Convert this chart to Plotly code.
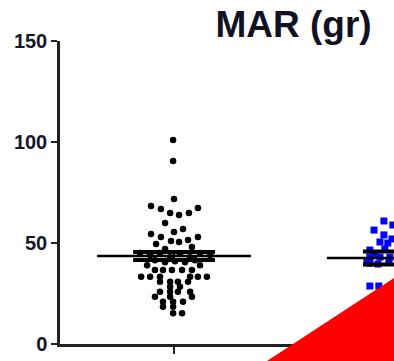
import plotly.graph_objects as go

# Group positions on the x axis (category index)
groups = [0, 1]
group_colors = ["#000000", "#0000ff"]
group_symbols = ["circle", "square"]

# Summary statistics per group: mean and SEM (grams)
group_mean = [43.6, 42.6]
group_sem = [2.0, 3.2]

# Group A: individual measurements (grams) and horizontal jitter (category units)
a_values = [
    101.0, 90.6, 71.8, 68.3, 66.8, 64.9, 63.9, 64.9, 67.3, 59.9, 56.9,
    55.4, 54.5, 53.0, 51.0, 50.5, 51.5, 53.0, 49.5, 47.0, 48.0,
    45.0, 44.0, 45.0, 43.0, 44.5, 43.0, 45.0, 44.0, 41.5, 40.5, 41.0,
    40.5, 41.5, 39.0, 39.0,
    36.6, 36.6, 36.6, 36.6, 36.6,
    33.3, 33.3, 33.3, 33.3, 33.3, 33.3,
    30.8, 30.8, 30.8, 30.8,
    28.4, 28.4,
    25.9, 25.9, 25.9, 25.9,
    23.4, 23.4, 23.4,
    20.9, 20.9, 20.9,
    18.5, 18.5,
    15.2, 15.2,
]
a_jitter = [
    -0.004, -0.004, 0.000, -0.100, -0.057, -0.017, 0.022, 0.065, 0.104, -0.039, 0.039,
    0.000, -0.100, -0.057, -0.013, 0.022, 0.061, 0.104, -0.078, -0.039, 0.078,
    -0.148, -0.104, -0.061, -0.017, 0.026, 0.070, 0.113, 0.157, -0.083, -0.039, 0.004,
    0.048, 0.091, -0.117, 0.113,
    -0.083, -0.048, -0.009, 0.035, 0.078,
    -0.143, -0.104, -0.061, 0.070, 0.104, 0.143,
    -0.061, -0.017, 0.017, 0.061,
    -0.017, 0.026,
    -0.061, -0.017, 0.017, 0.070,
    -0.083, -0.017, 0.078,
    -0.048, -0.004, 0.039,
    -0.048, -0.004,
    -0.004, 0.035,
]

# Group B: individual measurements (grams) and horizontal jitter (category units)
b_values = [60.9, 58.9, 56.4, 54.0, 52.0, 50.5, 50.0, 46.5, 47.0,
            44.5, 43.0, 43.0, 43.0, 41.0, 40.6, 40.0, 39.6, 28.7, 28.7]
b_jitter = [-0.087, -0.048, -0.130, -0.087, -0.052, -0.104, -0.070, -0.148, -0.083,
            -0.126, -0.148, -0.104, -0.061, -0.065, -0.161, -0.148, -0.113, -0.148, -0.109]

# Widths of the mean line and of the SEM caps (category units)
mean_half_width = 0.335
cap_half_width = 0.178

fig = go.Figure()

point_sets = [(a_values, a_jitter), (b_values, b_jitter)]
for g, (vals, jit) in zip(groups, point_sets):
    fig.add_trace(go.Scatter(
        x=[g + j for j in jit], y=vals, mode="markers",
        marker=dict(symbol=group_symbols[g], size=6.5 if g == 0 else 7,
                    color=group_colors[g], line=dict(width=0)),
        showlegend=False, hoverinfo="y",
    ))

for g, m, s in zip(groups, group_mean, group_sem):
    # mean line
    fig.add_trace(go.Scatter(
        x=[g - mean_half_width, g + mean_half_width], y=[m, m], mode="lines",
        line=dict(color="#000000", width=2.5), showlegend=False, hoverinfo="skip",
    ))
    # SEM caps and connecting bar
    for v in (m + s, m - s):
        fig.add_trace(go.Scatter(
            x=[g - cap_half_width, g + cap_half_width], y=[v, v], mode="lines",
            line=dict(color="#000000", width=4), showlegend=False, hoverinfo="skip",
        ))
    fig.add_trace(go.Scatter(
        x=[g, g], y=[m - s, m + s], mode="lines",
        line=dict(color="#000000", width=2), showlegend=False, hoverinfo="skip",
    ))

tick_font = dict(family="Liberation Sans, Arial", size=20, color="#15152a", weight="bold")

fig.update_layout(
    width=394, height=361,
    margin=dict(l=60, r=0, t=41, b=17),
    paper_bgcolor="white", plot_bgcolor="white",
    title=dict(text="MAR (gr)", x=0.745, xanchor="center", y=0.934, yanchor="middle",
               font=dict(family="Liberation Sans, Arial", size=37, color="#111122", weight="bold")),
    xaxis=dict(range=[-0.496, 0.957], tickvals=groups, showticklabels=False,
               ticks="outside", ticklen=7, tickwidth=2, tickcolor="#222222",
               showline=True, linewidth=2.5, linecolor="#222222",
               showgrid=False, zeroline=False, fixedrange=True),
    yaxis=dict(range=[0, 150], tickvals=[0, 50, 100, 150],
               ticks="outside", ticklen=6, tickwidth=2, tickcolor="#222222",
               tickfont=tick_font, showline=True, linewidth=2.5, linecolor="#222222",
               showgrid=False, zeroline=False, fixedrange=True),
    shapes=[dict(type="path", xref="paper", yref="paper",
                 path="M 0.6198 -0.0561 L 1 0.2178 L 1 -0.0561 Z",
                 fillcolor="#ff0000", line=dict(width=0), layer="above")],
)

fig.write_html("out.html")
